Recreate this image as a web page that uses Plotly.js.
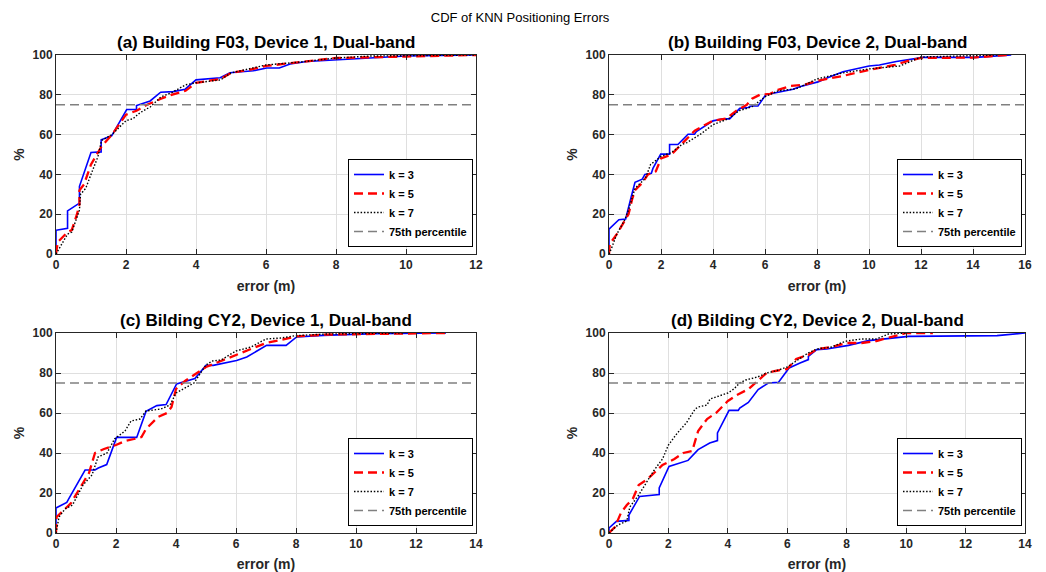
<!DOCTYPE html>
<html>
<head>
<meta charset="utf-8">
<script src="https://cdn.plot.ly/plotly-3.0.1.min.js"></script>
<style>html,body{margin:0;padding:0;background:#fff;}#chart{width:1046px;height:572px;}</style>
</head>
<body>
<div id="chart"></div>
<script>
// ---------- data (error in m, cumulative %) ----------
const seriesNames = ["k = 3", "k = 5", "k = 7"];
const refName = "75th percentile";
const refLevel = 75;

const panelTitles = [
  "(a) Building F03, Device 1, Dual-band",
  "(b) Building F03, Device 2, Dual-band",
  "(c) Bilding CY2, Device 1, Dual-band",
  "(d) Bilding CY2, Device 2, Dual-band"
];
const panelXMax = [12, 16, 14, 14];

// (a)
const a3x = [0,0,0.33,0.33,0.67,0.67,1.0,1.29,1.29,1.59,2.02,2.3,2.3,2.69,2.99,3.35,3.69,4.0,4.69,4.97,5.64,6.02,6.38,6.69,7.16,7.92,9.07,10.0,12];
const a3y = [0,11.9,12.9,21.7,25.6,34,51,51.3,57.4,59.4,72.6,72.6,74.6,76.9,81.3,81.6,82.8,87.5,88.6,91.1,92.1,93.5,93.5,95.5,96.7,97.5,98.8,99.5,100];
const a5x = [0,0.05,0.33,0.45,0.6,0.67,0.67,0.8,1.0,1.2,1.3,1.4,1.6,1.8,2.0,2.3,2.6,3.0,3.3,3.7,4.0,4.7,5.0,5.5,6.0,6.5,7.0,7.5,8.0,10,12];
const a5y = [0,6,11,12,20,25,32,35,45,51,54,56,60,65,70,72,75,78,80,82,86,88,91,92.5,94.5,95.5,96.5,97.5,98.5,99.2,100];
const a7x = [0,0.33,0.45,0.67,0.7,0.85,1.0,1.2,1.3,1.6,2.0,2.2,2.4,2.7,3.0,3.3,3.7,4.0,4.7,5.0,6.0,7.0,8.0,9.0,12];
const a7y = [0,10,11,22,30,33,40,49,57,60,67,68,71,74,79,81,85,86,87.5,91,95,96.5,98.5,99.5,100];

// (b)
const b3x = [0,0,0.38,0.64,0.86,1.0,1.28,1.38,1.63,1.69,1.99,2.33,2.33,2.65,3.04,3.29,3.36,4.0,4.38,4.64,5.03,5.35,5.47,5.73,6.03,6.44,7.08,7.33,8.04,8.36,9.0,10.0,10.4,11.05,12.08,14.1,15.47];
const b3y = [0,12.5,17.2,17.6,29,36,37.6,40,40.6,43,50.2,50.2,55,55,60.2,60.2,61.5,66.9,68,67.9,73.2,73.6,74.4,74.4,80,81.1,82.8,84,86.5,88.3,91.6,94.5,95,96.7,98.8,98.8,100];
const b5x = [0,0.03,0.3,0.6,0.75,0.9,1.0,1.3,1.5,1.8,2.0,2.4,2.8,3.0,3.3,3.6,4.0,4.5,4.9,5.3,5.5,5.8,6.2,6.5,7.0,7.5,8.0,9.0,10.0,11.0,11.5,12.0,14,15.3];
const b5y = [0,5,10,17,20,28,32,36,40,41.5,48,50,55,58,62,64,67,68,72,75,78,80,80.5,82.5,84.5,85,87,89.5,92.5,95,97,98.5,98.7,100];
const b7x = [0,0.1,0.3,0.6,0.75,1.0,1.4,1.6,1.8,2.0,2.4,2.8,3.0,3.5,4.0,4.6,5.0,5.5,5.8,6.0,6.5,7.2,8.0,9.0,10.0,11.2,12.0,14,15];
const b7y = [0,3,10,17,22,33,38,45,47,49,51,55,56,60,65,68,72,74,77,79,82,83,88,91,93,94.5,99,99.5,100];

// (c)
const c3x = [0,0,0.36,0.41,0.97,1.3,1.41,1.69,2.02,2.69,3.0,3.36,3.67,4.02,4.63,5.0,5.24,6.02,6.36,6.69,7.02,7.67,8.02,8.91,10.6,13];
const c3y = [0,12.5,15.3,16.7,31.5,31.5,32.5,34.2,47.8,47.8,60.8,63.7,64.2,74.5,77.2,83.8,83.8,86.2,88,90.8,93.8,93.8,98,98.8,99.7,100];
const c5x = [0,0.02,0.3,0.5,0.9,1.1,1.3,1.6,2.0,2.3,2.6,2.85,3.0,3.4,3.7,3.85,4.0,4.3,4.7,5.0,5.5,6.0,6.5,7.0,7.5,8.0,9.0,10.5,13];
const c5y = [0,8,12,15,25,30,40,42,44,46,47,48,52,58,60,63,72,76,80,83,86,89,92,95,96.5,98.3,99.2,99.5,100];
const c7x = [0,0.1,0.3,0.55,0.9,1.2,1.4,1.7,1.95,2.3,2.5,2.8,3.0,3.5,3.8,4.0,4.6,5.0,5.2,5.5,6.0,6.5,7.0,7.5,8.0,9.0,11.6];
const c7y = [0,8,12,14,24,29,38,40,47,51,56,57,61,62,64,70,75,84,86,86.5,91,93,97,97.5,98.7,99.5,100];

// (d)
const d3x = [0,0,0.25,0.67,0.67,1.03,1.69,1.69,2.02,2.66,3.0,3.39,3.65,3.65,4.04,4.35,4.4,4.69,5.02,5.36,5.7,6.06,6.43,6.71,6.71,6.99,7.33,8.06,8.73,9.12,10.08,13.06,14];
const d3y = [0,2.5,5.8,6.3,9,18.3,19.2,22.5,33.3,36.3,41.7,45,46.2,50,61.3,61.3,62.5,65.3,71.7,75,75.3,82.5,85,86.7,88.3,91.7,92,93.8,96.2,96.7,98.3,98.7,100];
const d5x = [0,0.2,0.4,0.6,0.8,1.0,1.3,1.5,1.8,2.2,2.5,2.8,3.0,3.3,3.6,4.0,4.3,4.7,5.0,5.3,5.6,6.0,6.3,6.7,7.0,7.5,8.0,8.5,9.0,9.5,10.0,10.9];
const d5y = [0,3,10,14,17,24,27,30,34,37,40,41,51,57,60,66,69,72,76,80,81,82,87,89,92,93,95,95,96,98,100,100];
const d7x = [0,0.3,0.6,0.7,1.0,1.3,1.5,1.8,2.0,2.3,2.6,2.9,3.0,3.3,3.4,3.6,4.0,4.2,4.4,4.6,5.0,5.3,5.6,6.0,6.4,6.7,7.0,7.5,7.8,8.0,8.5,9.0,9.4,10];
const d7y = [0,4,6,13,19,26,31,37,44,50,55,62,63,64,67,68,70,72,75,76.5,78,80,81,83,87,90,92,93,95,96,97,97,99.5,100];

const panelData = [
  [[a3x,a3y],[a5x,a5y],[a7x,a7y]],
  [[b3x,b3y],[b5x,b5y],[b7x,b7y]],
  [[c3x,c3y],[c5x,c5y],[c7x,c7y]],
  [[d3x,d3y],[d5x,d5y],[d7x,d7y]]
];

// ---------- layout geometry ----------
const W = 1046, H = 572;
const FONT = "Liberation Sans, Arial, Helvetica, sans-serif";
const axColor = "#262626";
// pixel boxes [left, right, top, bottom]
const boxes = [
  [56, 476, 55, 254],
  [609, 1025, 55, 254],
  [56, 476, 333, 533],
  [609, 1025, 333, 533]
];
const lineStyles = [
  {color: "#0000ff", width: 1.6, dash: "solid"},
  {color: "#ff0000", width: 2.3, dash: "9px,5px"},
  {color: "#000000", width: 1.4, dash: "1.5px,1.8px"}
];

const traces = [];
const layout = {
  width: W, height: H,
  margin: {l: 0, r: 0, t: 0, b: 0},
  paper_bgcolor: "#ffffff",
  plot_bgcolor: "#ffffff",
  font: {family: FONT, color: axColor, size: 12},
  title: {text: "CDF of KNN Positioning Errors", x: 520/W, xanchor: "center", y: 1 - 17/H, yanchor: "middle",
          font: {family: FONT, size: 13, color: "#000000"}},
  annotations: [],
  showlegend: true
};

boxes.forEach((b, i) => {
  const n = i + 1;
  const xa = "x" + (n === 1 ? "" : n), ya = "y" + (n === 1 ? "" : n);
  const xk = "xaxis" + (n === 1 ? "" : n), yk = "yaxis" + (n === 1 ? "" : n);
  const lg = "legend" + (n === 1 ? "" : n);
  const common = {
    showline: true, linecolor: axColor, linewidth: 1, mirror: "allticks",
    ticks: "inside", ticklen: 5, tickcolor: axColor,
    showgrid: true, gridcolor: "#dfdfdf", gridwidth: 1, zeroline: false,
    tickfont: {family: FONT, size: 12, color: axColor, weight: "bold"},
    automargin: false, fixedrange: true
  };
  layout[xk] = Object.assign({}, common, {
    domain: [b[0]/W, b[1]/W], anchor: ya, range: [0, panelXMax[i]], dtick: 2,
    title: {text: "error (m)", standoff: 9, font: {family: FONT, size: 14, color: axColor, weight: "bold"}}
  });
  layout[yk] = Object.assign({}, common, {
    domain: [1 - b[3]/H, 1 - b[2]/H], anchor: xa, range: [0, 100], dtick: 20,
    title: {text: "%", standoff: 4, font: {family: FONT, size: 14, color: axColor, weight: "bold"}}
  });
  layout[lg] = {
    x: (b[1] - 9 - 119)/W, y: 1 - (b[3] - 7)/H, xanchor: "left", yanchor: "bottom",
    bgcolor: "#ffffff", bordercolor: "#000000", borderwidth: 1,
    font: {family: FONT, size: 11, color: "#000000", weight: "bold"},
    tracegroupgap: 0, itemwidth: 30
  };
  layout.annotations.push({
    text: panelTitles[i], xref: "paper", yref: "paper",
    x: (b[0] + b[1]) / 2 / W, y: 1 - (b[2] - 13)/H, xanchor: "center", yanchor: "middle",
    showarrow: false, font: {family: FONT, size: 17, color: "#000000", weight: "bold"}
  });
  panelData[i].forEach((s, j) => {
    traces.push({
      x: s[0], y: s[1], type: "scatter", mode: "lines", name: seriesNames[j],
      xaxis: xa, yaxis: ya, legend: lg, line: lineStyles[j], hoverinfo: "skip"
    });
  });
  traces.push({
    x: [0, panelXMax[i]], y: [refLevel, refLevel], type: "scatter", mode: "lines", name: refName,
    xaxis: xa, yaxis: ya, legend: lg, line: {color: "#808080", width: 1.3, dash: "9px,5px"}, hoverinfo: "skip"
  });
});

Plotly.newPlot("chart", traces, layout, {staticPlot: true, displayModeBar: false});
</script>
</body>
</html>
